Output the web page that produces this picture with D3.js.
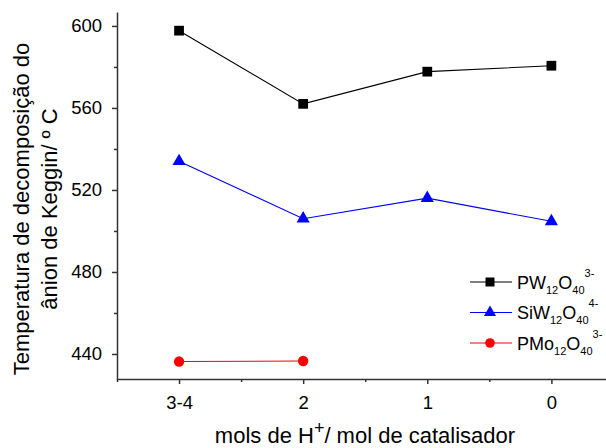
<!DOCTYPE html>
<html>
<head>
<meta charset="utf-8">
<script src="https://cdn.jsdelivr.net/npm/d3@7"></script>
<style>
  body { margin: 0; background: #fff; }
  text { font-family: Arial, "Liberation Sans", sans-serif; }
</style>
</head>
<body>
<div id="vis"></div>
<script>
const FRAME_WIDTH = 606;
const FRAME_HEIGHT = 448;
const MARGINS = {left: 117, right: 0, top: 12, bottom: 69};

// data
const categories = ["3-4", "2", "1", "0"];
const pwValues = [597.7, 562.0, 577.7, 580.6];
const siwValues = [534.0, 506.0, 516.0, 504.7];
const pmoValues = [436.3, 436.6];
const yTicks = [440, 480, 520, 560, 600];
const yMinorTicks = [460, 500, 540, 580];
const xMinorTicks = [-0.5, 0.5, 1.5, 2.5];

const series = [
  {base: "PW", sub1: "12", mid: "O", sub2: "40", sup: "3-", values: pwValues, color: "#000000", symbol: d3.symbolSquare, size: 95},
  {base: "SiW", sub1: "12", mid: "O", sub2: "40", sup: "4-", values: siwValues, color: "#0000ff", symbol: d3.symbolTriangle, size: 75},
  {base: "PMo", sub1: "12", mid: "O", sub2: "40", sup: "3-", values: pmoValues, color: "#ff0000", symbol: d3.symbolCircle, size: 85}
];

const svg = d3.select("#vis")
  .append("svg")
    .attr("width", FRAME_WIDTH)
    .attr("height", FRAME_HEIGHT);

const xScale = d3.scaleLinear()
  .domain([-0.5, 3.44])
  .range([MARGINS.left, FRAME_WIDTH - MARGINS.right]);

const yScale = d3.scaleLinear()
  .domain([427.8, 606.8])
  .range([FRAME_HEIGHT - MARGINS.bottom, MARGINS.top]);

const axisColor = "#333";
const xAxisY = FRAME_HEIGHT - MARGINS.bottom;

// minor ticks first
svg.append("g")
  .attr("transform", "translate(" + MARGINS.left + ",0)")
  .call(d3.axisLeft(yScale).tickValues(yMinorTicks).tickSize(3).tickFormat(""))
  .call(g => g.select(".domain").remove());

svg.append("g")
  .attr("transform", "translate(0," + xAxisY + ")")
  .call(d3.axisBottom(xScale).tickValues(xMinorTicks).tickSize(3).tickFormat(""))
  .call(g => g.select(".domain").remove());

// major axes
svg.append("g")
  .attr("transform", "translate(" + MARGINS.left + ",0)")
  .call(d3.axisLeft(yScale).tickValues(yTicks).tickSize(5).tickSizeOuter(0).tickPadding(10));

svg.append("g")
  .attr("transform", "translate(0," + xAxisY + ")")
  .call(d3.axisBottom(xScale).tickValues([0, 1, 2, 3]).tickFormat(i => categories[i]).tickSize(5).tickSizeOuter(0).tickPadding(11.5));

svg.selectAll(".tick line").attr("stroke", axisColor).attr("stroke-width", 1.5);
svg.selectAll(".domain").attr("stroke", axisColor).attr("stroke-width", 1.5);
svg.selectAll(".tick text")
  .attr("font-size", "18.5px")
  .attr("font-family", "Arial, 'Liberation Sans', sans-serif")
  .attr("fill", "#000");

// series lines and markers
const line = d3.line()
  .x((d, i) => xScale(i))
  .y(d => yScale(d));

series.forEach(s => {
  svg.append("path")
    .datum(s.values)
    .attr("fill", "none")
    .attr("stroke", s.color)
    .attr("stroke-width", 1.1)
    .attr("d", line);

  svg.selectAll(null)
    .data(s.values)
    .enter()
    .append("path")
    .attr("transform", (d, i) => "translate(" + xScale(i) + "," + yScale(d) + ")")
    .attr("d", d3.symbol().type(s.symbol).size(s.size))
    .attr("fill", s.color);
});

// legend
const legend = svg.append("g").attr("transform", "translate(470,282)");
series.forEach((s, i) => {
  const row = legend.append("g").attr("transform", "translate(0," + (i * 30.5) + ")");
  row.append("line")
    .attr("x1", 0).attr("x2", 42)
    .attr("stroke", s.color)
    .attr("stroke-width", 1.1);
  row.append("path")
    .attr("transform", "translate(20,0)")
    .attr("d", d3.symbol().type(s.symbol).size(s.size * 0.85))
    .attr("fill", s.color);
  const t = row.append("text")
    .attr("x", 47)
    .attr("y", 6.5)
    .attr("font-size", "18px")
    .attr("fill", "#000");
  t.append("tspan").text(s.base);
  t.append("tspan").attr("font-size", "11px").attr("dy", 5).text(s.sub1);
  t.append("tspan").attr("dy", -5).text(s.mid);
  t.append("tspan").attr("font-size", "11px").attr("dy", 5).text(s.sub2);
  t.append("tspan").attr("font-size", "11px").attr("dy", -17).text(s.sup);
});

// axis titles
const xTitle = svg.append("text")
  .attr("x", 365)
  .attr("y", 443)
  .attr("text-anchor", "middle")
  .attr("font-size", "22px")
  .attr("fill", "#000");
xTitle.append("tspan").text("mols de H");
xTitle.append("tspan").attr("font-size", "18px").attr("dy", -9).text("+");
xTitle.append("tspan").attr("dy", 9).text("/ mol de catalisador");

const yTitle = svg.append("text")
  .attr("transform", "translate(0,209) rotate(-90)")
  .attr("text-anchor", "middle")
  .attr("font-size", "22px")
  .attr("fill", "#000");
yTitle.append("tspan").attr("x", 0).attr("y", 28.5).text("Temperatura de decomposição do");
yTitle.append("tspan").attr("x", 0).attr("y", 56.5).text("ânion de Keggin/ º C");
</script>
</body>
</html>
